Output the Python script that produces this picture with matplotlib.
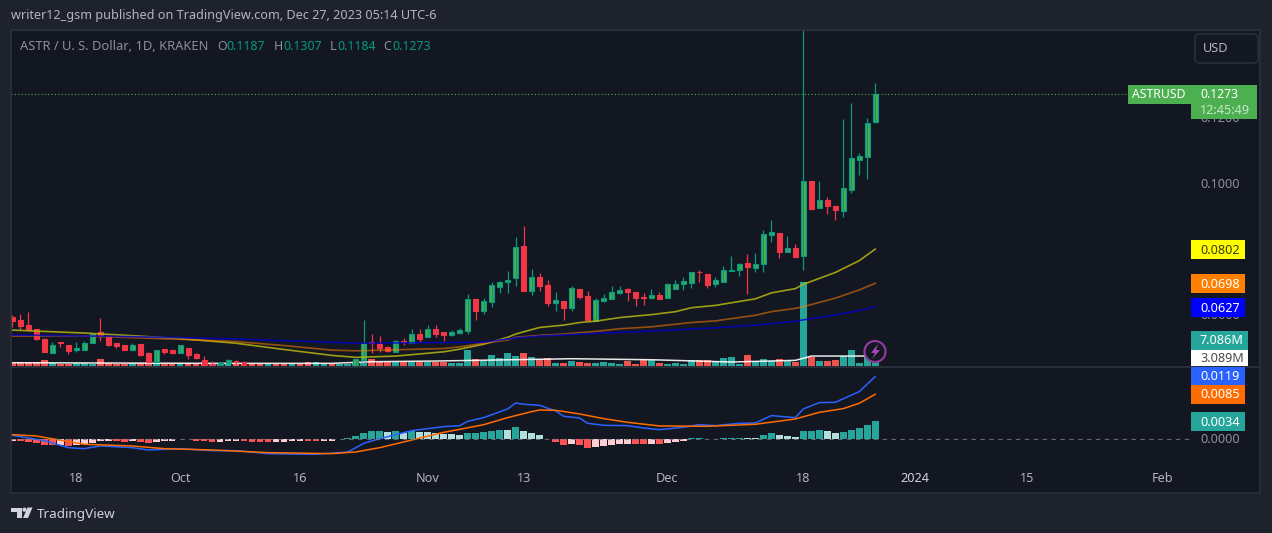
import numpy as np
import matplotlib
matplotlib.use("Agg")
import matplotlib.pyplot as plt
from matplotlib.patches import Rectangle, FancyBboxPatch, Circle, Polygon
from matplotlib.transforms import blended_transform_factory

plt.rcParams['font.family'] = ['Noto Sans', 'DejaVu Sans']

# ASTR/USD daily candles, 10 Sep to 27 Dec 2023 (index 0 is Sep 10)
opens = [.0595,.0587,.0571,.0558,.0528,.0487,.0519,.0511,.0496,.0496,
         .0516,.0550,.0538,.0516,.0511,.0496,.0514,.0485,.0459,.0497,
         .0495,.0487,.0503,.0483,.0465,.0452,.0449,.0455,.0462,.0459,
         .0440,.0432,.0428,.0431,.0428,.0424,.0427,.0423,.0420,.0424,
         .0427,.0425,.0428,.0430,.0465,.0520,.0514,.0505,.0490,.0523,
         .0516,.0543,.0534,.0558,.0550,.0542,.0548,.0554,.0651,.0615,
         .0642,.0688,.0703,.0715,.0812,.0676,.0716,.0693,.0639,.0644,
         .0624,.0681,.0660,.0585,.0645,.0651,.0670,.0681,.0671,.0656,
         .0655,.0662,.0655,.0682,.0697,.0700,.0734,.0725,.0697,.0703,
         .0737,.0740,.0760,.0746,.0758,.0846,.0851,.0794,.0804,.0781,
         .1009,.0928,.0951,.0933,.0918,.0982,.1073,.1082,.1187]
highs = [.0602,.0605,.0610,.0558,.0531,.0520,.0519,.0511,.0520,.0523,
         .0544,.0593,.0538,.0516,.0511,.0516,.0514,.0489,.0494,.0497,
         .0495,.0510,.0503,.0486,.0477,.0461,.0459,.0468,.0466,.0462,
         .0442,.0436,.0433,.0434,.0432,.0429,.0430,.0426,.0427,.0429,
         .0430,.0431,.0432,.0468,.0588,.0543,.0538,.0508,.0526,.0532,
         .0558,.0558,.0570,.0570,.0550,.0555,.0561,.0666,.0651,.0653,
         .0701,.0705,.0736,.0839,.0872,.0741,.0729,.0708,.0671,.0644,
         .0690,.0681,.0674,.0655,.0666,.0689,.0689,.0684,.0671,.0668,
         .0681,.0671,.0698,.0707,.0716,.0732,.0739,.0725,.0716,.0751,
         .0781,.0761,.0786,.0790,.0860,.0891,.0851,.0842,.0818,.1500,
         .1009,.1009,.0960,.0933,.1198,.1246,.1094,.1201,.1307]
lows = [.0566,.0556,.0556,.0526,.0490,.0487,.0506,.0484,.0490,.0496,
        .0516,.0524,.0509,.0501,.0496,.0496,.0477,.0459,.0459,.0484,
        .0486,.0487,.0469,.0468,.0449,.0448,.0449,.0455,.0453,.0449,
        .0428,.0424,.0422,.0424,.0421,.0418,.0419,.0416,.0414,.0418,
        .0421,.0420,.0423,.0428,.0465,.0487,.0490,.0489,.0490,.0512,
        .0516,.0521,.0534,.0535,.0523,.0539,.0545,.0545,.0587,.0605,
        .0626,.0669,.0669,.0690,.0675,.0663,.0675,.0630,.0614,.0587,
        .0614,.0651,.0587,.0583,.0641,.0650,.0665,.0644,.0629,.0632,
        .0650,.0651,.0655,.0681,.0678,.0684,.0702,.0684,.0688,.0703,
        .0737,.0720,.0666,.0733,.0733,.0824,.0776,.0794,.0778,.0739,
        .0924,.0928,.0909,.0891,.0900,.0973,.1027,.1015,.1184]
closes = [.0585,.0568,.0556,.0529,.0490,.0512,.0516,.0492,.0501,.0516,
          .0544,.0538,.0512,.0508,.0496,.0510,.0480,.0459,.0494,.0489,
          .0486,.0510,.0481,.0472,.0450,.0449,.0455,.0464,.0459,.0449,
          .0432,.0428,.0431,.0428,.0424,.0427,.0423,.0420,.0424,.0427,
          .0425,.0428,.0430,.0468,.0516,.0518,.0501,.0492,.0523,.0521,
          .0543,.0529,.0558,.0544,.0541,.0550,.0556,.0650,.0614,.0643,
          .0692,.0701,.0708,.0808,.0675,.0716,.0690,.0638,.0646,.0624,
          .0683,.0657,.0587,.0646,.0653,.0671,.0677,.0673,.0655,.0654,
          .0662,.0651,.0695,.0697,.0704,.0732,.0732,.0694,.0707,.0738,
          .0738,.0756,.0748,.0756,.0847,.0854,.0794,.0804,.0778,.1009,
          .0924,.0951,.0933,.0921,.0988,.1079,.1085,.1185,.1273]

# volume in millions
volumes = [1.02,1.14,1.14,1.14,1.85,.93,.71,.71,.83,.83,
           .71,2.16,.83,.71,.71,.83,.93,1.14,.93,.71,
           .71,.83,.83,.71,1.33,.62,.62,.71,.62,.62,
           .53,.62,.62,.62,.62,.62,.62,1.14,1.14,.62,
           .62,.62,.62,1.02,1.02,2.16,1.33,1.33,1.33,1.33,
           1.33,1.33,1.33,1.33,1.33,.93,.93,4.94,2.07,1.45,
           3.40,2.47,4.02,3.09,4.02,2.78,2.26,2.47,.93,.93,
           1.55,1.24,.93,.93,1.24,.93,.62,1.55,.62,2.07,
           1.76,.93,.62,.93,.62,1.85,1.85,1.85,1.45,2.47,
           2.78,.71,3.40,1.45,2.16,1.45,2.16,1.45,1.24,25.96,
           2.78,1.45,1.55,1.85,3.09,4.94,.93,3.09,7.086]
vol_ma_x = [0, 25, 40, 45, 53, 70, 80, 90, 98, 99, 100, 108]
vol_ma = [1.02, .83, .83, 1.33, 1.55, 2.26, 1.95, 1.24, 1.76, 2.38, 3.09, 3.089]

# moving averages, read at the bends of each line
ma_yellow_x = [0,9,15,21,28,34,40,43,48,54,56,59,62,63,66,69,71,73,76,80,83,85,88,93,95,98,99,103,106,108]
ma_yellow = [.0556,.0547,.0539,.0530,.0516,.0497,.0479,.0473,.0477,.0490,.0498,.0513,.0534,.0544,.0564,
             .0571,.0579,.0583,.0594,.0603,.0612,.0624,.0631,.0651,.0669,.0682,.0695,.0731,.0767,.0802]
ma_orange_x = [0,9,15,21,28,34,40,43,48,54,56,59,62,63,66,69,73,76,80,85,88,93,95,98,99,103,106,108]
ma_orange = [.0538,.0538,.0533,.0528,.0521,.0509,.0495,.0493,.0496,.0500,.0505,.0516,.0526,.0534,.0540,
             .0544,.0552,.0560,.0566,.0579,.0584,.0601,.0612,.0622,.0627,.0653,.0678,.0698]
ma_blue_x = [0,9,15,21,28,34,40,43,48,54,59,63,66,73,80,88,93,98,99,103,106,108]
ma_blue = [.0541,.0538,.0536,.0533,.0529,.0524,.0519,.0516,.0517,.0518,.0519,.0532,.0538,.0546,.0553,
           .0563,.0571,.0583,.0587,.0602,.0615,.0627]

# MACD pane
macd_hist = [-.00032,-.00035,-.00044,-.00064,-.00102,-.00108,-.00100,-.00127,-.00102,-.00095,
             -.00076,-.00032,-.00030,-.00038,-.00057,-.00032,-.00050,-.00070,-.00045,-.00032,
             -.00028,.00004,.00003,-.00032,-.00040,-.00052,-.00050,-.00032,-.00030,-.00038,
             -.00050,-.00052,-.00054,-.00050,-.00048,-.00032,-.00030,-.00038,-.00040,-.00038,
             -.00030,.00006,.00025,.00064,.00121,.00159,.00160,.00133,.00159,.00121,
             .00152,.00133,.00130,.00114,.00102,.00100,.00083,.00121,.00122,.00140,
             .00159,.00178,.00170,.00235,.00159,.00121,.00083,.00006,-.00051,-.00108,
             -.00089,-.00108,-.00165,-.00146,-.00127,-.00108,-.00089,-.00085,-.00089,-.00092,
             -.00089,-.00095,-.00070,-.00051,-.00032,.00025,.00026,.00006,.00005,.00025,
             .00026,.00027,.00024,.00023,.00083,.00121,.00083,.00063,.00044,.00159,
             .00160,.00178,.00159,.00121,.00140,.00178,.00216,.00273,.00340]
macd_x = [0,4,7,9,11,15,17,21,25,28,32,38,42,44,46,50,54,56,57,59,62,63,64,66,68,69,71,72,74,77,79,81,84,86,88,91,93,95,98,99,101,103,106,108]
macd_line = [.00076,-.00025,-.00159,-.00178,-.00127,-.00159,-.00203,-.00178,-.00216,-.00216,-.00273,-.00286,
             -.00241,-.00076,.00013,.00165,.00241,.00260,.00343,.00413,.00578,.00692,.00667,.00648,.00540,.00438,
             .00406,.00305,.00267,.00260,.00216,.00184,.00229,.00279,.00260,.00305,.00311,.00451,.00413,.00578,
             .00698,.00705,.00908,.01194]
signal_x = [0,3,9,15,19,25,32,40,43,46,50,54,56,59,62,65,66,68,71,74,77,81,87,93,98,101,104,106,108]
signal_line = [.00089,.00063,-.00095,-.00127,-.00178,-.00203,-.00254,-.00273,-.00241,-.00159,-.00013,.00133,
               .00190,.00279,.00413,.00527,.00559,.00552,.00483,.00394,.00324,.00254,.00248,.00286,.00387,
               .00514,.00584,.00686,.00857]

price_ticks = [.0600, .0800, .1000, .1200]
date_ticks = [8, 21, 36, 52, 64, 82, 99, 113, 127, 144]
date_labels = ['18', 'Oct', '16', 'Nov', '13', 'Dec', '18', '2024', '15', 'Feb']

W, H = 1272, 533
BG = '#1e222d'
PANE = '#131722'
GRID = '#2a2e39'
UP_BODY = '#4caf50'
UP_EDGE = '#089981'
DOWN = '#f23645'
TXT = '#b2b5be'
FS = 9.1


def fx(x):
    return x / W


def fy(y):
    return 1 - y / H


fig = plt.figure(figsize=(W / 100, H / 100), dpi=100, facecolor=BG)

# pixel layout of the frame
left, right, top, split, bottom = 11, 1260, 30, 367, 493
xlim = ((left - 12.3) / 7.99, (right - 12.3) / 7.99)

ax_vol = fig.add_axes([fx(left), fy(split), fx(right - left), fy(top) - fy(split)], zorder=1, facecolor=PANE)
ax = fig.add_axes([fx(left), fy(split), fx(right - left), fy(top) - fy(split)], zorder=2, facecolor='none')
ax2 = fig.add_axes([fx(left), fy(bottom), fx(right - left), fy(split) - fy(bottom)], zorder=1, facecolor=PANE)

x = np.arange(len(opens))
o = np.array(opens)
h = np.array(highs)
l = np.array(lows)
c = np.array(closes)
up = c >= o

# volume with its MA underneath the candles
vol_cols = ['#26a69a' if u else '#ef5350' for u in up]
ax_vol.bar(x, volumes, width=0.85, color=vol_cols, linewidth=0)
ax_vol.plot(vol_ma_x, vol_ma, color='#ffffff', lw=1.1, alpha=0.9)
ax_vol.set_ylim(-0.3, 104)

# candles
ax.vlines(x[up], l[up], h[up], color=UP_EDGE, lw=0.9)
ax.vlines(x[~up], l[~up], h[~up], color=DOWN, lw=0.9)
ax.bar(x[up], (c - o)[up], bottom=o[up], width=0.62, color=UP_BODY, edgecolor=UP_EDGE, linewidth=0.8)
ax.bar(x[~up], (o - c)[~up], bottom=c[~up], width=0.62, color=DOWN, edgecolor=DOWN, linewidth=0.8)

ax.plot(ma_yellow_x, ma_yellow, color='#b5b512', lw=1.2, alpha=0.85)
ax.plot(ma_orange_x, ma_orange, color='#ff7f00', lw=1.2, alpha=0.55)
ax.plot(ma_blue_x, ma_blue, color='#0000c8', lw=1.2, alpha=0.8)

# last price dotted line
ax.plot([xlim[0], (1128 - 12.3) / 7.99], [closes[-1], closes[-1]], color=UP_BODY, lw=0.8, dashes=(1, 2))
ax.set_ylim(.1 - (367 - 184) / 3290, .1 + (184 - 30) / 3290)

# MACD
hist_cols = []
for i, v in enumerate(macd_hist):
    prev = macd_hist[i - 1] if i else v
    if v >= 0:
        hist_cols.append('#26a69a' if v >= prev else '#b2dfdb')
    else:
        hist_cols.append('#ff5252' if v < prev else '#ffcdd2')
ax2.bar(x, macd_hist, width=0.85, color=hist_cols, linewidth=0)
ax2.plot(macd_x, macd_line, color='#2962ff', lw=1.1)
ax2.plot(signal_x, signal_line, color='#ff6d00', lw=1.1)
ax2.plot([xlim[0], (1192 - 12.3) / 7.99], [0, 0], color='#787b86', lw=0.8, dashes=(4, 4), alpha=0.8)
ax2.set_ylim((439.3 - bottom) / 5250, (439.3 - split) / 5250)

for a in (ax_vol, ax, ax2):
    a.set_xlim(xlim)
    a.set_xticks([])
    a.set_yticks([])
    for s in a.spines.values():
        s.set_color(GRID)
        s.set_linewidth(1.2)
ax.patch.set_visible(False)

# price scale, partly covered by the boxes further down
price_tr = blended_transform_factory(fig.transFigure, ax.transData)
for p in price_ticks:
    ax.text(fx(1200), p, '%.4f' % p, color='#8d909a', fontsize=FS, va='center', ha='left',
            transform=price_tr, zorder=3, clip_on=False)

# dates
date_tr = blended_transform_factory(ax2.transData, fig.transFigure)
for d, lab in zip(date_ticks, date_labels):
    bold = lab == '2024'
    ax2.text(d, fy(479), lab, color='#d1d4dc' if bold else TXT, fontsize=FS, ha='center', va='center',
             fontweight='bold' if bold else 'normal', transform=date_tr)

# everything below is in pixels on a full figure overlay
ov = fig.add_axes([0, 0, 1, 1], zorder=5, facecolor='none')
ov.set_xlim(0, W)
ov.set_ylim(H, 0)
ov.axis('off')

ov.text(11, 16, 'writer12_gsm published on TradingView.com, Dec 27, 2023 05:14 UTC-6', color=TXT,
        fontsize=9.1, va='center')
ov.text(20, 46.5, 'ASTR / U. S. Dollar, 1D, KRAKEN', color='#8d909a', fontsize=9.3, va='center')
legend_parts = [(217, 'O', '#8d909a'), (226, '0.1187', UP_EDGE), (274, 'H', '#8d909a'), (283, '0.1307', UP_EDGE),
                (330, 'L', '#8d909a'), (337, '0.1184', UP_EDGE), (383, 'C', '#8d909a'), (392, '0.1273', UP_EDGE)]
for px, t, col in legend_parts:
    ov.text(px, 46.5, t, color=col, fontsize=8.9, va='center')

# USD button
ov.add_patch(FancyBboxPatch((1197, 36), 59, 25, boxstyle='round,pad=2,rounding_size=4', fc=PANE, ec=GRID, lw=1.2))
ov.text(1216, 48.5, 'USD', color=TXT, fontsize=FS, ha='center', va='center')

# last price label
ov.add_patch(Rectangle((1128, 85), 129, 19, fc=UP_BODY, lw=0))
ov.add_patch(Rectangle((1191, 104), 66, 15, fc=UP_BODY, lw=0))
ov.text(1132, 94.5, 'ASTRUSD', color='white', fontsize=8.8, fontweight='bold', va='center')
ov.text(1200, 94.5, '0.1273', color='white', fontsize=8.8, fontweight='bold', va='center')
ov.text(1200, 111, '12:45:49', color='#c8e6c9', fontsize=FS, va='center')

# indicator value boxes: label, top, bottom, right edge, fill, text colour
boxes = [('0.0802', 240, 259, 1245, '#ffff00', '#3a3a10'),
         ('0.0698', 274, 293, 1245, '#ff7f00', '#ffffff'),
         ('0.0627', 298, 317, 1245, '#0000ff', '#ffffff'),
         ('7.086M', 331, 350, 1248, '#26a69a', '#ffffff'),
         ('3.089M', 350, 366, 1248, '#ffffff', '#4a4a4a'),
         ('0.0119', 367, 385, 1245, '#2962ff', '#ffffff'),
         ('0.0085', 385, 404, 1245, '#ff6d00', '#ffffff'),
         ('0.0034', 412, 431, 1245, '#26a69a', '#ffffff')]
for lab, y0, y1, xr, fc, tc in boxes:
    ov.add_patch(Rectangle((1191, y0), xr - 1191, y1 - y0, fc=fc, lw=0))
    ov.text(1200, (y0 + y1) / 2 + 0.5, lab, color=tc, fontsize=FS, va='center')
ov.text(1200, 439.5, '0.0000', color='#8d909a', fontsize=FS, va='center')

# lightning badge
ov.add_patch(Circle((875, 351.5), 10.5, fc=PANE, ec='#8e3a9e', lw=1.6))
ov.add_patch(Polygon([(878, 344), (871, 353), (875, 353), (872, 359), (880, 350), (876, 350)], closed=True,
                     fc='#ab47bc', lw=0))

# TradingView logo
logo = '#d1d4dc'
ov.add_patch(Polygon([(11, 507.5), (22, 507.5), (22, 518), (16.5, 518), (16.5, 511.5), (11, 511.5)], closed=True,
                     fc=logo, lw=0))
ov.add_patch(Circle((24.5, 509.7), 2.1, fc=logo, lw=0))
ov.add_patch(Polygon([(27.5, 507.5), (32.5, 507.5), (28, 518), (23, 518)], closed=True, fc=logo, lw=0))
ov.text(37, 514.5, 'TradingView', color='#d1d4dc', fontsize=9.7, va='center')

fig.savefig('out.png', dpi=100, facecolor=BG)
